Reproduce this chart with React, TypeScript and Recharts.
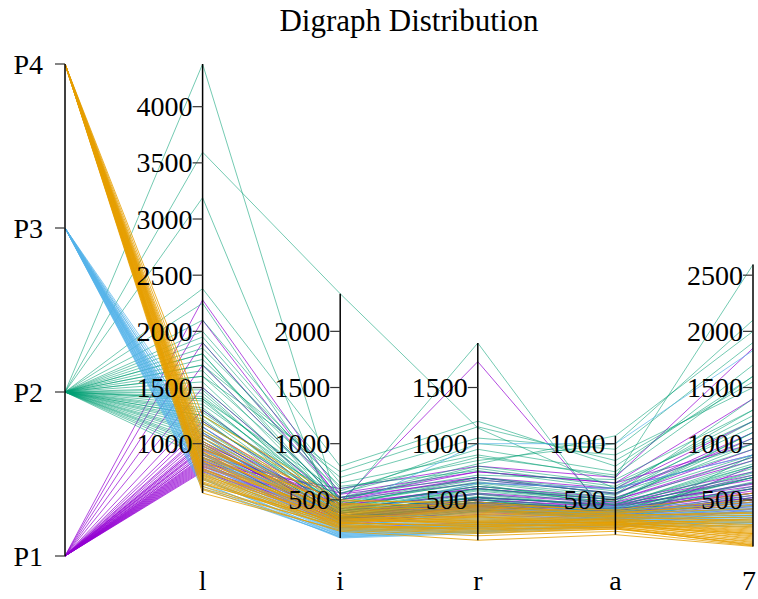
import React from "react";
import { LineChart, Line, XAxis, YAxis, ReferenceLine, ReferenceDot } from "recharts";

const AXIS_LABELS = ["", "l", "i", "r", "a", "7"];
const P_LABELS = ["P1", "P2", "P3", "P4"];
const GROUP_COLORS = ["#9400D3", "#009E73", "#56B4E9", "#E69F00"];
const GROUP_OPACITY = [0.7, 0.55, 0.7, 0.8];
const TICK_STEP = 500;
const TITLE = "Digraph Distribution";
const FONT = "'Liberation Serif', 'Times New Roman', serif";
const CHART_W = 758;
const CHART_H = 599;

// each row: [l, i, r, a, 7]
const P1_LINES: number[][] = [
  [2280, 550, 700, 550, 1100],
  [2100, 500, 650, 600, 900],
  [1900, 520, 750, 650, 1000],
  [1700, 480, 1730, 300, 800],
  [1500, 450, 600, 500, 850],
  [1300, 420, 560, 480, 750],
  [1200, 400, 520, 450, 700],
  [1150, 380, 500, 430, 650],
  [1100, 360, 480, 420, 600],
  [1080, 420, 550, 470, 720],
  [1050, 340, 460, 400, 560],
  [1020, 380, 500, 440, 640],
  [1000, 320, 440, 380, 520],
  [980, 360, 480, 410, 600],
  [960, 400, 520, 460, 680],
  [940, 340, 450, 390, 540],
  [920, 300, 420, 360, 480],
  [900, 350, 470, 400, 580],
  [880, 330, 430, 370, 500],
  [860, 310, 410, 350, 460],
  [850, 380, 520, 450, 620],
  [830, 290, 400, 340, 440],
  [810, 340, 450, 380, 520],
  [800, 320, 420, 360, 480],
  [780, 300, 390, 330, 420],
  [770, 360, 480, 420, 560],
  [760, 280, 370, 320, 400],
  [750, 330, 440, 380, 500],
  [820, 600, 800, 700, 1850],
  [900, 560, 750, 650, 1400],
  [950, 500, 700, 600, 1200],
  [1000, 450, 620, 520, 950],
  [870, 520, 680, 560, 1050],
  [790, 470, 600, 500, 880],
  [840, 250, 300, 250, 420],
];

const P2_LINES: number[][] = [
  [4380, 400, 600, 500, 1100],
  [3595, 2335, 1140, 600, 1300],
  [3190, 250, 400, 380, 700],
  [2380, 800, 1200, 800, 1600],
  [2250, 455, 1896, 250, 900],
  [2100, 650, 900, 700, 2594],
  [2000, 600, 850, 1000, 2100],
  [1950, 550, 1000, 900, 1500],
  [1900, 500, 800, 650, 1200],
  [1850, 620, 760, 600, 1000],
  [1800, 450, 700, 550, 1400],
  [1750, 580, 950, 750, 1700],
  [1700, 480, 650, 520, 900],
  [1650, 420, 600, 480, 1100],
  [1600, 520, 720, 680, 1300],
  [1550, 400, 580, 460, 800],
  [1500, 460, 680, 560, 950],
  [1480, 380, 550, 420, 750],
  [1450, 430, 620, 500, 1050],
  [1420, 500, 780, 620, 1250],
  [1400, 360, 520, 400, 700],
  [1380, 420, 640, 450, 850],
  [1350, 480, 700, 580, 1150],
  [1320, 350, 500, 380, 650],
  [1300, 400, 560, 430, 800],
  [1280, 440, 620, 510, 1000],
  [1250, 380, 480, 400, 720],
  [1220, 330, 460, 370, 600],
  [1200, 410, 590, 480, 880],
  [1180, 460, 660, 540, 1200],
  [1150, 340, 450, 360, 620],
  [1120, 390, 530, 440, 780],
  [1100, 360, 500, 410, 700],
  [1080, 320, 430, 350, 560],
  [1050, 300, 420, 340, 540],
  [1020, 380, 520, 460, 820],
  [1000, 340, 470, 390, 660],
  [980, 310, 410, 330, 520],
  [950, 350, 480, 420, 740],
  [920, 290, 400, 340, 500],
  [880, 330, 440, 380, 600],
  [1700, 700, 1050, 950, 1900],
  [1600, 750, 1150, 850, 1550],
  [1400, 560, 880, 720, 1600],
  [1800, 400, 520, 300, 450],
  [1250, 520, 820, 1070, 2000],
];

const P3_LINES: number[][] = [
  [620, 170, 220, 280, 300],
  [680, 190, 240, 300, 330],
  [740, 200, 260, 310, 350],
  [800, 220, 280, 330, 380],
  [860, 240, 300, 350, 400],
  [920, 260, 320, 360, 420],
  [980, 280, 340, 380, 450],
  [1050, 300, 360, 400, 470],
  [650, 160, 200, 260, 280],
  [700, 180, 230, 290, 310],
  [760, 210, 250, 320, 340],
  [820, 230, 270, 340, 360],
  [880, 250, 290, 350, 390],
  [950, 270, 330, 370, 430],
  [1100, 290, 380, 420, 460],
  [600, 175, 210, 270, 260],
  [720, 195, 245, 305, 320],
  [780, 215, 265, 325, 370],
  [840, 235, 285, 345, 385],
  [900, 255, 310, 360, 410],
  [1000, 275, 350, 390, 440],
  [640, 185, 225, 285, 290],
  [760, 205, 300, 300, 360],
  [690, 165, 215, 275, 300],
  [830, 225, 255, 335, 345],
  [910, 245, 275, 355, 395],
  [1150, 320, 390, 440, 480],
  [870, 300, 420, 380, 420],
  [1050, 400, 1000, 1000, 1830],
  [950, 350, 650, 600, 900],
];

const P4_LINES: number[][] = [
  [640, 300, 260, 280, 150],
  [700, 280, 240, 260, 120],
  [760, 320, 300, 300, 200],
  [820, 350, 330, 310, 240],
  [600, 260, 220, 250, 100],
  [900, 380, 360, 330, 280],
  [980, 400, 380, 340, 320],
  [1050, 430, 420, 360, 380],
  [1120, 460, 450, 380, 420],
  [1180, 490, 480, 400, 500],
  [680, 240, 200, 240, 110],
  [730, 270, 250, 270, 160],
  [780, 290, 280, 290, 190],
  [850, 310, 300, 300, 230],
  [920, 340, 320, 310, 260],
  [1000, 360, 350, 320, 300],
  [560, 230, 180, 220, 90],
  [620, 250, 210, 240, 130],
  [660, 290, 270, 280, 180],
  [720, 330, 310, 300, 210],
  [800, 370, 340, 320, 250],
  [880, 410, 390, 350, 340],
  [960, 440, 410, 370, 360],
  [1080, 470, 440, 390, 450],
  [1250, 500, 460, 410, 560],
  [590, 220, 140, 190, 85],
  [650, 270, 230, 260, 140],
  [710, 300, 260, 290, 170],
  [770, 340, 290, 300, 220],
  [840, 360, 310, 330, 270],
  [930, 390, 370, 350, 310],
  [1020, 420, 400, 360, 390],
  [740, 310, 350, 280, 330],
  [870, 330, 280, 270, 200],
  [690, 260, 240, 250, 95],
  [950, 450, 430, 380, 480],
];

const GROUPS = [P1_LINES, P2_LINES, P3_LINES, P4_LINES];

const ALL_ROWS = GROUPS.flat();
const COLS = [0, 1, 2, 3, 4];
const COL_MIN = COLS.map((c) => Math.min(...ALL_ROWS.map((r) => r[c])));
const COL_MAX = COLS.map((c) => Math.max(...ALL_ROWS.map((r) => r[c])));
const Y_MAX = Math.max(...COL_MAX);
const pValue = (k: number) => (k * Y_MAX) / (P_LABELS.length - 1);

const SERIES = GROUPS.flatMap((rows, g) =>
  rows.map((row, j) => ({
    key: `g${g}-${j}`,
    color: GROUP_COLORS[g],
    opacity: GROUP_OPACITY[g],
    data: [{ x: 0, y: pValue(g) }, ...row.map((v, c) => ({ x: c + 1, y: v }))],
  }))
);

const NUM_TICKS = COLS.map((c) => {
  const out: number[] = [];
  for (let v = Math.ceil(COL_MIN[c] / TICK_STEP) * TICK_STEP; v <= COL_MAX[c]; v += TICK_STEP) out.push(v);
  return out;
});

const makeTick = (label: string, gap: number) => (props: any) => {
  const { cx, cy } = props;
  return (
    <g>
      <line x1={cx - 10} y1={cy} x2={cx} y2={cy} stroke="#333" strokeWidth={1.2} />
      <text
        x={cx - 10 - gap}
        y={cy}
        textAnchor="end"
        dominantBaseline="central"
        fontFamily={FONT}
        fontSize={28}
        fill="#000"
      >
        {label}
      </text>
    </g>
  );
};

const XTick = (props: any) => {
  const { x, y, payload } = props;
  const label = AXIS_LABELS[payload.value] ?? "";
  const tx = Math.min(x, CHART_W - 9);
  return (
    <text x={tx} y={y} dy="0.71em" textAnchor="middle" fontFamily={FONT} fontSize={28} fill="#000">
      {label}
    </text>
  );
};

export default function App() {
  return (
    <div style={{ position: "absolute", left: 0, top: 0, width: CHART_W, height: CHART_H, background: "#fff" }}>
      <div
        style={{
          position: "absolute",
          left: 65,
          width: 688,
          top: 2,
          textAlign: "center",
          fontFamily: FONT,
          fontSize: 31,
          lineHeight: "38px",
          color: "#000",
        }}
      >
        {TITLE}
      </div>
      <LineChart width={CHART_W} height={CHART_H} margin={{ top: 64, right: 5, bottom: 13, left: 65 }}>
        <XAxis
          type="number"
          dataKey="x"
          domain={[0, AXIS_LABELS.length - 1]}
          ticks={[1, 2, 3, 4, 5]}
          axisLine={false}
          tickLine={false}
          tickMargin={8}
          height={30}
          interval={0}
          tick={<XTick />}
        />
        <YAxis type="number" domain={[0, Y_MAX]} hide width={0} />
        {SERIES.map((s) => (
          <Line
            key={s.key}
            data={s.data}
            dataKey="y"
            type="linear"
            stroke={s.color}
            strokeOpacity={s.opacity}
            strokeWidth={1}
            dot={false}
            activeDot={false}
            isAnimationActive={false}
          />
        ))}
        <ReferenceLine
          segment={[{ x: 0, y: 0 }, { x: 0, y: Y_MAX }]}
          stroke="#000"
          strokeWidth={1.5}
        />
        {COLS.map((c) => (
          <ReferenceLine
            key={`ax${c}`}
            segment={[{ x: c + 1, y: COL_MIN[c] }, { x: c + 1, y: COL_MAX[c] }]}
            stroke="#000"
            strokeWidth={1.5}
          />
        ))}
        {P_LABELS.map((lab, k) => (
          <ReferenceDot key={`p${k}`} x={0} y={pValue(k)} r={0} shape={makeTick(lab, 12)} />
        ))}
        {COLS.map((c) =>
          NUM_TICKS[c].map((v) => (
            <ReferenceDot key={`t${c}-${v}`} x={c + 1} y={v} r={0} shape={makeTick(String(v), 0)} />
          ))
        )}
      </LineChart>
    </div>
  );
}
